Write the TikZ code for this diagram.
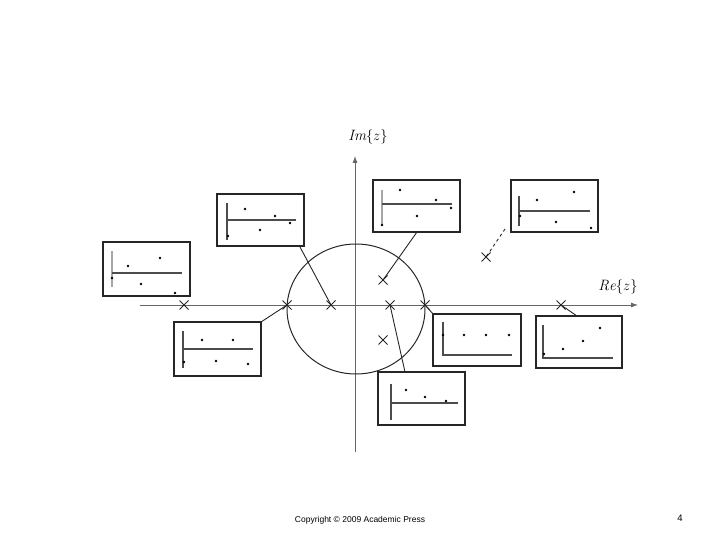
\documentclass[tikz,border=0pt]{standalone}
\usepackage{fontspec}
\newfontfamily\arial{Liberation Sans}
\usetikzlibrary{arrows.meta}
\begin{document}
\begin{tikzpicture}[x=1pt,y=-1pt,
  axis/.style={draw=black!60, line width=0.8pt},
  pole/.style={draw=black!85, line width=0.8pt},
  plotbox/.style={draw=black!85, line width=1.3pt},
  inax/.style={draw=black!70, line width=1.1pt},
  conn/.style={draw=black!85, line width=0.9pt},
  dot/.style={fill=black, inner sep=0pt, minimum size=2.8pt, circle}]
\useasboundingbox (0,0) rectangle (720,540);
% axes
\coordinate (yb) at (355,452); \coordinate (yt) at (355,156);
\coordinate (xl) at (140,305); \coordinate (xr) at (638,305);
\draw[axis,-{Latex[length=7pt,width=5pt]}] (yb) -- (yt);
\draw[axis,-{Latex[length=7pt,width=5pt]}] (xl) -- (xr);
\node (im) at (368,137) {\fontsize{15}{17}\selectfont$\mathit{Im}\{z\}$};
\node (re) at (618,287) {\fontsize{15}{17}\selectfont$\mathit{Re}\{z\}$};
% unit circle
\draw[line width=1pt, black!85] (356,309) ellipse (69 and 65);
% poles
\foreach \n/\x/\y in {p1/184/305,p2/287/305,p3/331/305,p4/390/305,p5/425/305,p6/561/305,p7/383/280,p8/383/340,p9/486/257}{
  \coordinate (\n) at (\x,\y);
  \draw[pole] (\x-4.5,\y-4.5) -- (\x+4.5,\y+4.5) (\x-4.5,\y+4.5) -- (\x+4.5,\y-4.5);
}
% box 1
\draw[plotbox] (103,242) rectangle (190,296);
\draw[draw=black!35,line width=1.1pt] (112,251) -- (112,287);
\draw[inax] (112,273) -- (182,273);
\foreach \x/\y in {160/258,128/266,112/278,141/284,175/293} \node[dot] at (\x,\y) {};
% box 2
\draw[plotbox] (217,194) rectangle (304,246);
\coordinate (b2) at (300,247);
\draw[inax] (227,203) -- (227,240);
\draw[inax] (227,220) -- (296,220);
\foreach \x/\y in {245/209,275/216,290/223,260/230,228/236} \node[dot] at (\x,\y) {};
% box 3
\draw[plotbox] (373,180) rectangle (460,232);
\coordinate (b3) at (417,232);
\draw[draw=black!35,line width=1.1pt] (382,190) -- (382,226);
\draw[inax] (382,204) -- (452,204);
\foreach \x/\y in {400/190,436/200,451/208,417/216,382/225} \node[dot] at (\x,\y) {};
% box 4
\draw[plotbox] (511,180) rectangle (598,232);
\coordinate (b4) at (505,229);
\draw[inax] (519,196) -- (519,226);
\draw[inax] (519,211) -- (590,211);
\foreach \x/\y in {574/192,537/200,520/216,556/222,591/228} \node[dot] at (\x,\y) {};
% box 5
\draw[plotbox] (174,322) rectangle (261,376);
\coordinate (b5) at (261,322);
\draw[inax] (183,331) -- (183,368);
\draw[inax] (183,349) -- (253,349);
\foreach \x/\y in {202/340,233/340,184/362,216/361,248/364} \node[dot] at (\x,\y) {};
% box 6
\draw[plotbox] (433,314) rectangle (521,366);
\coordinate (b6) at (434,315);
\draw[inax] (443,322) -- (443,355) -- (512,355);
\foreach \x/\y in {443/335,464/335,486/335,509/335} \node[dot] at (\x,\y) {};
% box 7
\draw[plotbox] (536,316) rectangle (622,368);
\coordinate (b7) at (577,316);
\draw[inax] (543,325) -- (543,358) -- (613,358);
\foreach \x/\y in {544/354,563/349,583/341,600/328} \node[dot] at (\x,\y) {};
% box 8
\draw[plotbox] (378,372) rectangle (465,425);
\coordinate (b8) at (405,372);
\draw[inax] (391,384) -- (391,420);
\draw[inax] (391,403) -- (458,403);
\foreach \x/\y in {406/390,425/397,446/401} \node[dot] at (\x,\y) {};
% connectors
\draw[conn] (b2) -- (p3);
\draw[conn] (b3) -- (p7);
\draw[conn,dashed] (b4) -- (p9);
\draw[conn] (b5) -- (p2);
\draw[conn] (b6) -- (p5);
\draw[conn] (b7) -- (p6);
\draw[conn] (b8) -- (p4);
% footer
\node[font=\arial\fontsize{8.5}{10}\selectfont] (copy) at (360,520) {Copyright © 2009 Academic Press};
\node[font=\arial\fontsize{9.5}{11}\selectfont] (pg) at (680,518) {4};
\end{tikzpicture}
\end{document}
